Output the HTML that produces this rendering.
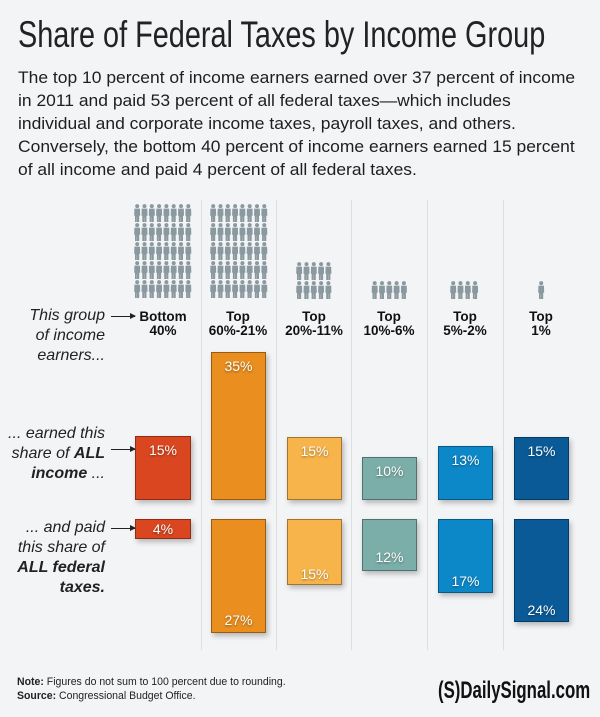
<!DOCTYPE html>
<html><head><meta charset="utf-8"><style>
body{margin:0;width:600px;height:717px;background:#f3f4f6;position:relative;overflow:hidden;font-family:"Liberation Sans",sans-serif;color:#1a1a1a}
.a{position:absolute}
.title{left:18px;top:14px;font-size:37px;white-space:nowrap;transform-origin:0 0;transform:scaleX(0.78);color:#222}
.p{left:18px;top:66px;font-size:17px;line-height:23px;color:#1e1e1e;white-space:nowrap;transform-origin:0 0;transform:scaleX(1.027)}
.div{width:1px;top:200px;height:450px;background:#dcdee2}
.lab{width:76px;text-align:center;font-size:13.5px;font-weight:bold;line-height:14px;top:310px;color:#111}
.bar{border:1px solid rgba(0,0,0,0.35);box-shadow:2px 3px 5px rgba(0,0,0,0.25);color:#fff;font-size:14px;text-align:center;box-sizing:border-box;text-shadow:0 1px 2px rgba(0,0,0,.4)}
.it{font-style:italic;font-size:16px;line-height:20px;text-align:right;width:105px;left:0;color:#222}
.arrow{height:1px;background:#222;width:24px}
.arrow:after{content:"";position:absolute;right:-1px;top:-3px;border-left:6px solid #222;border-top:3.5px solid transparent;border-bottom:3.5px solid transparent}
</style></head><body>
<svg width="0" height="0" style="position:absolute"><defs><symbol id="pp" viewBox="0 0 6 18"><circle cx="3" cy="2.1" r="2" fill="#8a989f"/><path d="M0.2 4.6h5.6l0.2 7.2h-1v6.2h-2.2v-5h-0.2v5H0.8v-6.2h-0.8z" fill="#8a989f"/></symbol></defs></svg>
<div class="a title">Share of Federal Taxes by Income Group</div>
<div class="a p">The top 10 percent of income earners earned over 37 percent of income<br>in 2011 and paid 53 percent of all federal taxes—which includes<br>individual and corporate income taxes, payroll taxes, and others.<br>Conversely, the bottom 40 percent of income earners earned 15 percent<br>of all income and paid 4 percent of all federal taxes.</div>

<div class="a div" style="left:201px"></div>
<div class="a div" style="left:276px"></div>
<div class="a div" style="left:351px"></div>
<div class="a div" style="left:427px"></div>
<div class="a div" style="left:503px"></div>

<svg class="a" style="left:0;top:0" width="600" height="310">
<g id="g8">
<use href="#pp" x="134" y="204" width="6.4" height="18"/><use href="#pp" x="141.3" y="204" width="6.4" height="18"/><use href="#pp" x="148.6" y="204" width="6.4" height="18"/><use href="#pp" x="155.9" y="204" width="6.4" height="18"/><use href="#pp" x="163.2" y="204" width="6.4" height="18"/><use href="#pp" x="170.5" y="204" width="6.4" height="18"/><use href="#pp" x="177.8" y="204" width="6.4" height="18"/><use href="#pp" x="185.1" y="204" width="6.4" height="18"/>
</g>
<use href="#g8" y="19"/><use href="#g8" y="38"/><use href="#g8" y="57"/><use href="#g8" y="76"/>
<use href="#g8" x="76"/><use href="#g8" x="76" y="19"/><use href="#g8" x="76" y="38"/><use href="#g8" x="76" y="57"/><use href="#g8" x="76" y="76"/>
<g id="g5"><use href="#pp" x="296" y="262" width="6.4" height="18"/><use href="#pp" x="303.3" y="262" width="6.4" height="18"/><use href="#pp" x="310.6" y="262" width="6.4" height="18"/><use href="#pp" x="317.9" y="262" width="6.4" height="18"/><use href="#pp" x="325.2" y="262" width="6.4" height="18"/></g>
<use href="#g5" y="19"/><use href="#g5" x="75.5" y="19"/>
<use href="#pp" x="450" y="281" width="6.4" height="18"/><use href="#pp" x="457.3" y="281" width="6.4" height="18"/><use href="#pp" x="464.6" y="281" width="6.4" height="18"/><use href="#pp" x="471.9" y="281" width="6.4" height="18"/>
<use href="#pp" x="538" y="281" width="6.4" height="18"/>
</svg>

<div class="a lab" style="left:125px">Bottom<br>40%</div>
<div class="a lab" style="left:200px">Top<br>60%-21%</div>
<div class="a lab" style="left:276px">Top<br>20%-11%</div>
<div class="a lab" style="left:351px">Top<br>10%-6%</div>
<div class="a lab" style="left:427px">Top<br>5%-2%</div>
<div class="a lab" style="left:503px">Top<br>1%</div>

<div class="a it" style="top:306px">This group<br>of income<br>earners...</div>
<div class="a arrow" style="left:111px;top:316px"></div>
<div class="a it" style="top:424px">... earned this<br>share of <b>ALL</b><br><b>income</b> ...</div>
<div class="a arrow" style="left:111px;top:449px"></div>
<div class="a it" style="top:518px">... and paid<br>this share of<br><b>ALL federal</b><br><b>taxes.</b></div>
<div class="a arrow" style="left:111px;top:528px"></div>

<div class="a bar" style="left:135px;top:436px;width:56px;height:64px;background:#d9461f;padding-top:5px">15%</div>
<div class="a bar" style="left:135px;top:519px;width:56px;height:20px;background:#d9461f;padding-top:1px">4%</div>
<div class="a bar" style="left:211px;top:352px;width:55px;height:148px;background:#e98e1f;padding-top:5px">35%</div>
<div class="a bar" style="left:211px;top:519px;width:55px;height:114px;background:#e98e1f;padding-top:92px">27%</div>
<div class="a bar" style="left:287px;top:437px;width:55px;height:63px;background:#f7b44a;padding-top:5px">15%</div>
<div class="a bar" style="left:287px;top:519px;width:55px;height:66px;background:#f7b44a;padding-top:46px">15%</div>
<div class="a bar" style="left:362px;top:457px;width:55px;height:43px;background:#7baea8;padding-top:5px">10%</div>
<div class="a bar" style="left:362px;top:519px;width:55px;height:52px;background:#7baea8;padding-top:29px">12%</div>
<div class="a bar" style="left:438px;top:446px;width:55px;height:54px;background:#0c88c8;padding-top:5px">13%</div>
<div class="a bar" style="left:438px;top:519px;width:55px;height:74px;background:#0c88c8;padding-top:53px">17%</div>
<div class="a bar" style="left:514px;top:437px;width:55px;height:63px;background:#095a97;padding-top:5px">15%</div>
<div class="a bar" style="left:514px;top:519px;width:55px;height:103px;background:#095a97;padding-top:82px">24%</div>

<div class="a" style="left:17px;top:675px;font-size:11.3px;line-height:14px;color:#222;white-space:nowrap;transform-origin:0 0;transform:scaleX(0.93)"><b>Note:</b> Figures do not sum to 100 percent due to rounding.<br><b>Source:</b> Congressional Budget Office.</div>
<div class="a" style="left:438px;top:677px;font-size:24px;font-weight:bold;white-space:nowrap;transform-origin:0 0;transform:scaleX(0.7);color:#111">(S)DailySignal.com</div>
</body></html>
